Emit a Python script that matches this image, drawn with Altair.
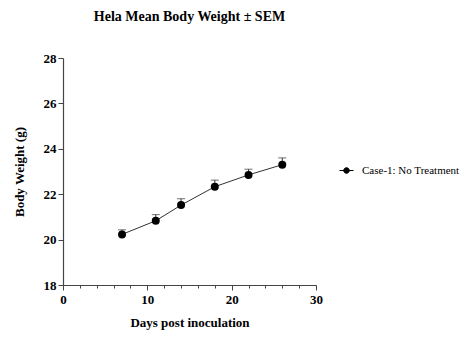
import altair as alt
import pandas as pd

days = [7, 11, 14, 18, 22, 26]
mean_weight = [20.23, 20.83, 21.52, 22.33, 22.85, 23.30]
sem = [0.20, 0.27, 0.28, 0.29, 0.25, 0.30]
series = ["Case-1: No Treatment"] * 6
x_major = [0, 10, 20, 30]
x_minor = list(range(0, 31, 2))
y_ticks = list(range(18, 29, 1))

df = pd.DataFrame({"day": days, "mean": mean_weight, "sem": sem, "group": series})
df["top"] = df["mean"] + df["sem"]

FONT = "Liberation Serif"
x_scale = alt.Scale(domain=[0, 30], nice=False)

x_enc = alt.X(
    "day:Q",
    scale=x_scale,
    axis=alt.Axis(
        orient="bottom",
        title="Days post inoculation",
        values=x_major,
        tickSize=5,
        grid=False, labelOverlap=False,
        labelFont=FONT, labelFontSize=13, labelFontWeight="bold", labelColor="black",
        titleFont=FONT, titleFontSize=13, titleFontWeight="bold", titleColor="black",
        domainColor="#444", tickColor="#444", domainWidth=1.2, tickWidth=1,
        labelPadding=3, titlePadding=10, labelFlush=False,
    ),
)
x_minor_enc = alt.X(
    "day:Q",
    scale=x_scale,
    axis=alt.Axis(
        orient="bottom",
        title=None, values=x_minor, tickSize=3, labels=False, domain=False,
        grid=False, tickColor="#444", tickWidth=1,
    ),
)
x_plain = alt.X("day:Q", scale=x_scale, axis=None)
y_axis = alt.Axis(
    title="Body Weight (g)",
    values=y_ticks,
    labelExpr="datum.value % 2 === 0 ? datum.label : ''",
    tickSize={"condition": {"test": "datum.value % 2 === 0", "value": 5}, "value": 3},
    grid=False, labelOverlap=False,
    labelFont=FONT, labelFontSize=13, labelFontWeight="bold", labelColor="black",
    titleFont=FONT, titleFontSize=13, titleFontWeight="bold", titleColor="black",
    domainColor="#444", tickColor="#444", domainWidth=1.2, tickWidth=1,
    labelPadding=2, titlePadding=17, labelFlush=False,
)
y_scale = alt.Scale(domain=[18, 28], nice=False)

color = alt.Color(
    "group:N",
    scale=alt.Scale(range=["black"]),
    legend=alt.Legend(
        title=None,
        orient="none", legendX=276, legendY=105,
        symbolType="M-1,0L1,0M-0.4,0A0.4,0.4 0 1,1 0.4,0A0.4,0.4 0 1,1 -0.4,0",
        symbolSize=196, symbolStrokeWidth=1, symbolFillColor="black", symbolStrokeColor="black",
        labelFont=FONT, labelFontSize=11, labelColor="black", labelOffset=8,
    ),
)

base = alt.Chart(df)
line = base.mark_line(color="#333", strokeWidth=1).encode(
    x=x_enc, y=alt.Y("mean:Q", scale=y_scale, axis=y_axis)
)
rule = base.mark_rule(color="#333", strokeWidth=1).encode(
    x=x_minor_enc, y="mean:Q", y2="top:Q"
)
cap = base.mark_tick(color="#333", orient="horizontal", size=8, thickness=1).encode(
    x=x_plain, y="top:Q"
)
pts = base.mark_point(filled=True, size=64, opacity=1).encode(
    x=x_plain, y="mean:Q", color=color
)

chart = alt.layer(line, rule, cap, pts).resolve_axis(x="independent").properties(
    width=253,
    height=227,
    autosize=alt.AutoSizeParams(type="none"),
    padding={"left": 63, "top": 58, "right": 157, "bottom": 69},
    title=alt.TitleParams(
        "Hela Mean Body Weight ± SEM",
        font=FONT, fontSize=14, fontWeight="bold", color="black",
        anchor="middle", offset=28,
    ),
).configure_view(stroke=None)

chart.save("out.html", embed_options={"renderer": "svg", "actions": False})
